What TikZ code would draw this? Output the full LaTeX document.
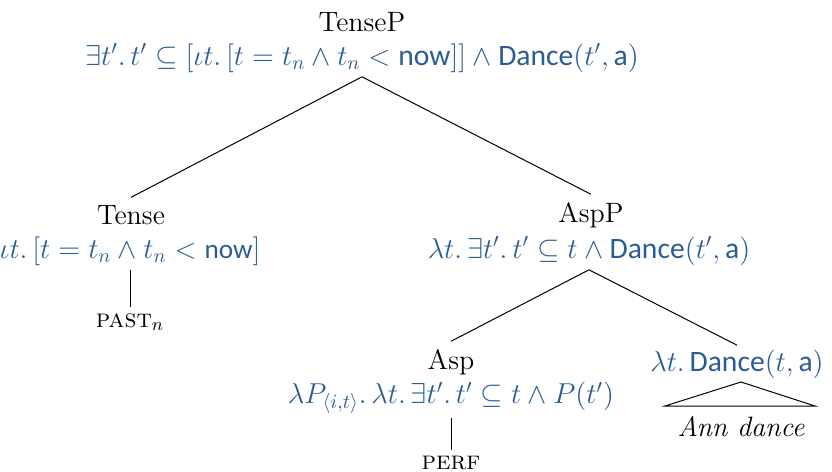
\documentclass[tikz,border=0pt]{standalone}
\usepackage{amsmath,amssymb}
\usepackage{fontspec}
\setsansfont{Carlito}
\definecolor{semblue}{HTML}{2B5C94}
\newcommand{\Dn}{\textsf{Dance}}
\newcommand{\nw}{\textsf{now}}
\newcommand{\ann}{\textsf{a}}
\begin{document}
\begin{tikzpicture}[x=0.5pt,y=-0.5pt,
  cat/.style={font=\fontsize{14}{16}\selectfont, inner sep=1pt, outer sep=3pt},
  sem/.style={text=semblue, font=\fontsize{14.8}{17}\selectfont, inner sep=2pt},
  leaf/.style={font=\fontsize{13}{15}\selectfont, inner sep=1pt, outer sep=2pt},
  branch/.style={line width=0.5pt}]
\useasboundingbox (0,0) rectangle (832,472);
\node[cat] (tp) at (362,22) {TenseP};
\node[sem] (tps) at (362,58) {$\exists t'.\,t'\subseteq[\iota t.\,[t=t_n\wedge t_n<\text{\nw}]]\wedge\text{\Dn}(t',\text{\ann})$};
\node[cat] (t) at (131,215) {Tense};
\node[sem, font=\fontsize{13.6}{16}\selectfont] (ts) at (130,251) {$\iota t.\,[t=t_n\wedge t_n<\text{\nw}]$};
\node[leaf] (past) at (130,322) {\textsc{past}$_n$};
\node[cat] (ap) at (591,215) {AspP};
\node[sem] (aps) at (589,251) {$\lambda t.\,\exists t'.\,t'\subseteq t\wedge\text{\Dn}(t',\text{\ann})$};
\node[cat] (a) at (451,362) {Asp};
\node[sem] (as) at (451,398) {$\lambda P_{\langle i,t\rangle}.\,\lambda t.\,\exists t'.\,t'\subseteq t\wedge P(t')$};
\node[leaf] (perf) at (451,463) {\textsc{perf}};
\node[sem] (vp) at (737,364) {$\lambda t.\,\text{\Dn}(t,\text{\ann})$};
\node[cat, font=\fontsize{14}{16}\selectfont\itshape] (ann) at (741,427) {Ann dance};
\coordinate (tl) at (665,406);
\coordinate (tr) at (815,406);
\coordinate (apex) at (741,382);
\draw[branch] (tps.south) -- (t.north);
\draw[branch] (tps.south) -- (ap.north);
\draw[branch] (ts.south) -- (past.north);
\draw[branch] (aps.south) -- (a.north);
\draw[branch] (aps.south) -- (vp.north);
\draw[branch] (as.south) -- (perf.north);
\draw[branch] (apex) -- (tr) -- (tl) -- cycle;
\end{tikzpicture}
\end{document}
